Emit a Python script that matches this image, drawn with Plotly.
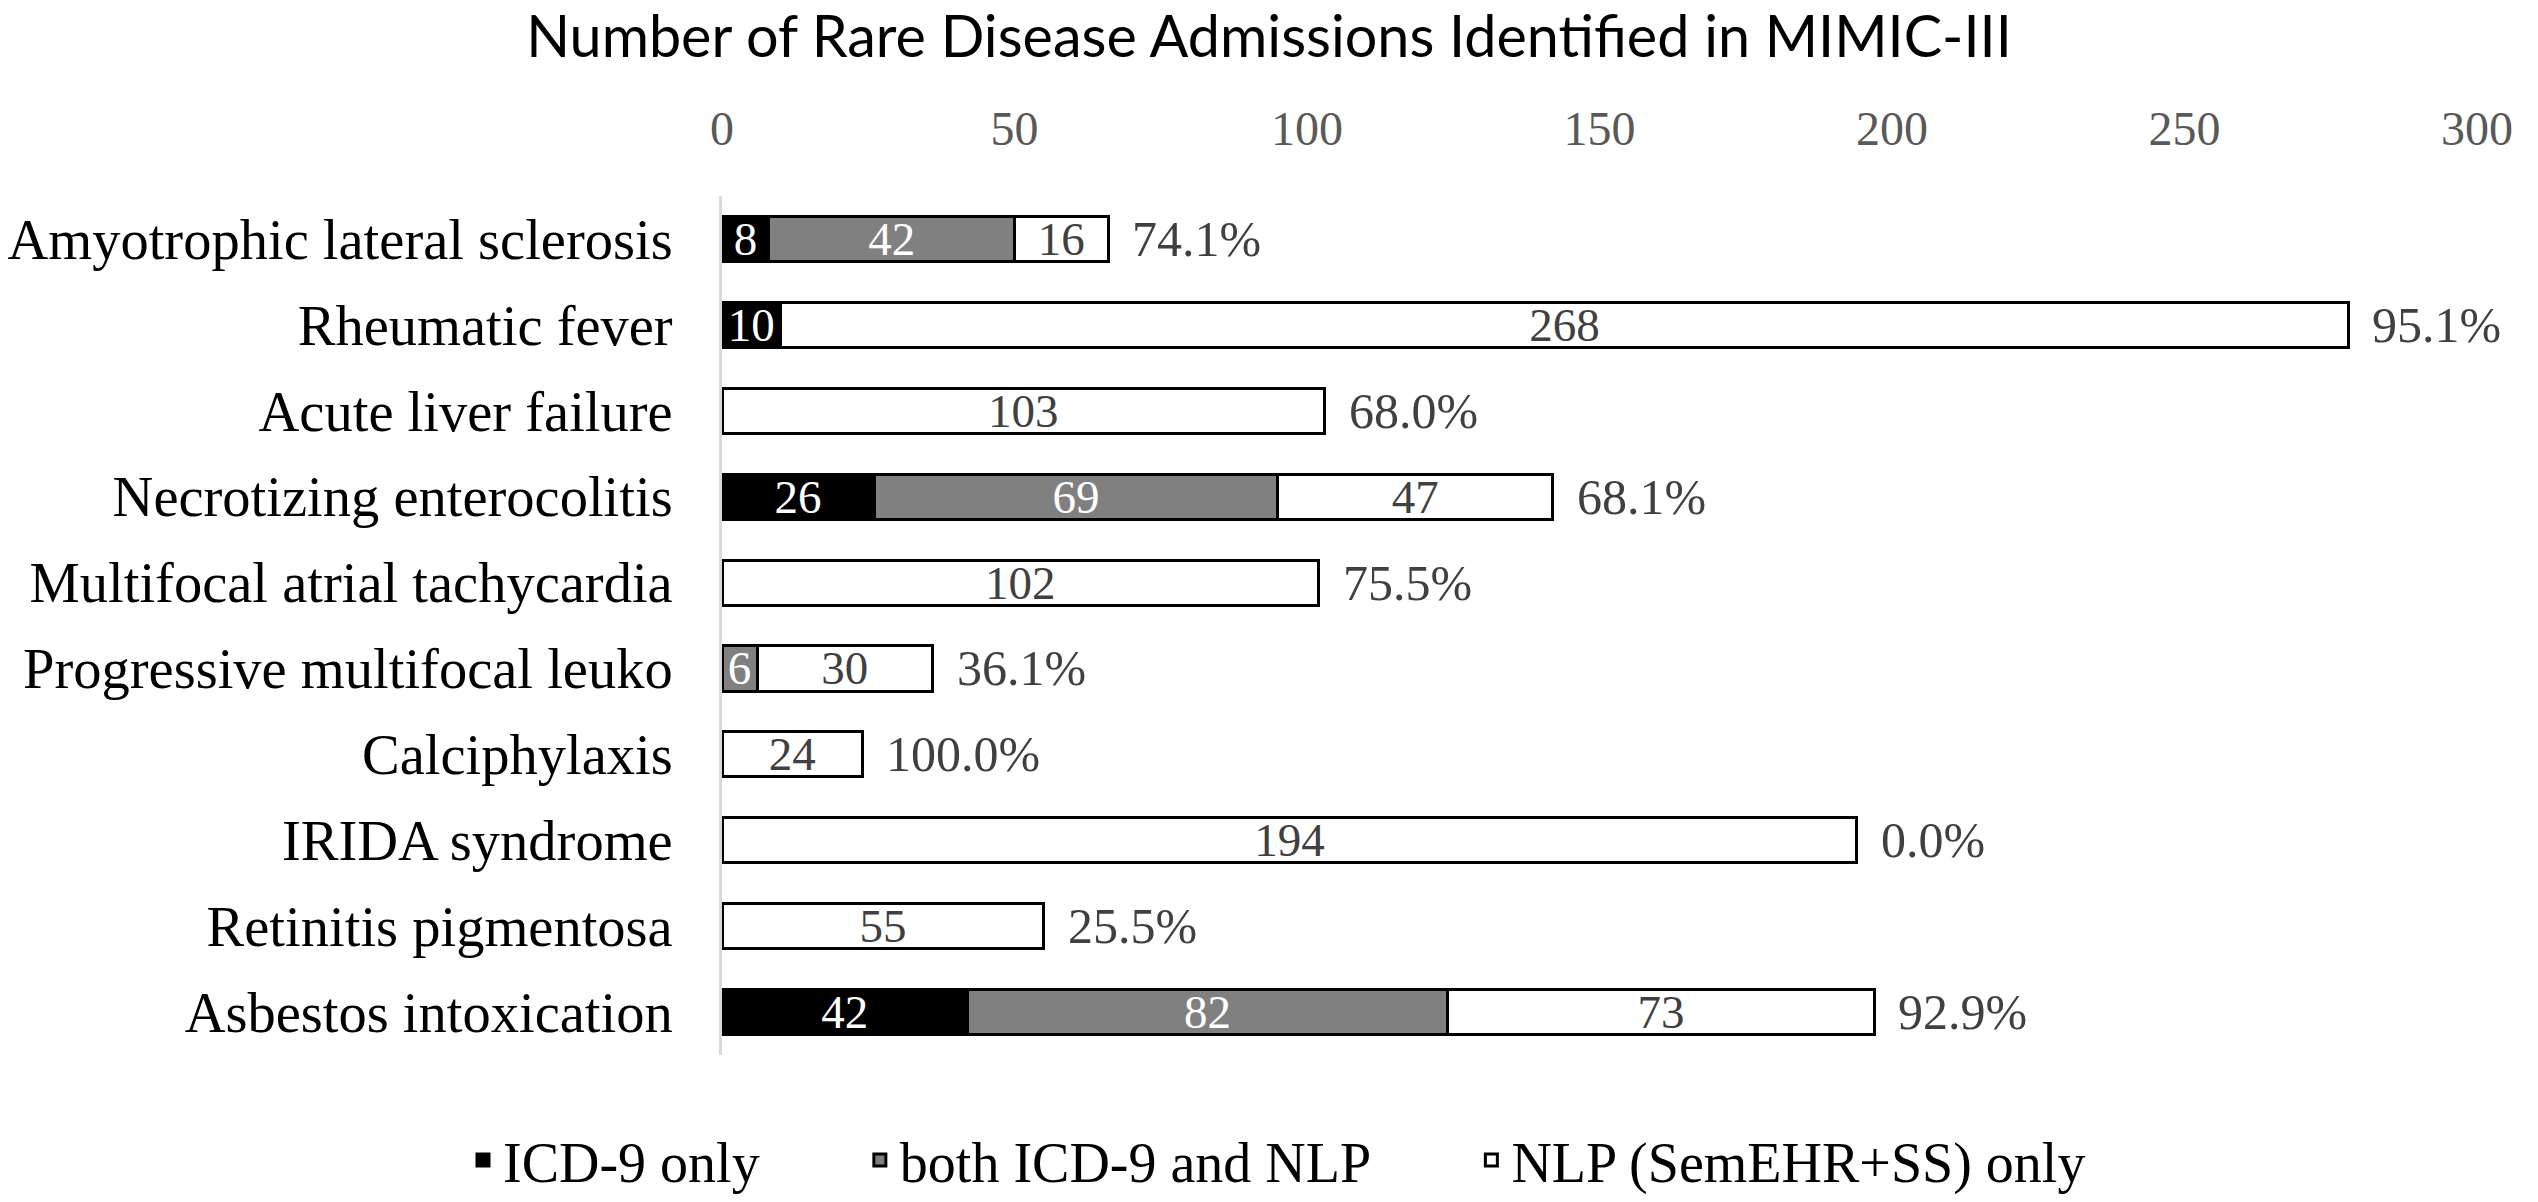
import plotly.graph_objects as go

categories = [
    "Amyotrophic lateral sclerosis",
    "Rheumatic fever",
    "Acute liver failure",
    "Necrotizing enterocolitis",
    "Multifocal atrial tachycardia",
    "Progressive multifocal leuko",
    "Calciphylaxis",
    "IRIDA syndrome",
    "Retinitis pigmentosa",
    "Asbestos intoxication",
]
icd9_only = [8, 10, 0, 26, 0, 0, 0, 0, 0, 42]
both = [42, 0, 0, 69, 0, 6, 0, 0, 0, 82]
nlp_only = [16, 268, 103, 47, 102, 30, 24, 194, 55, 73]
pct_labels = ["74.1%", "95.1%", "68.0%", "68.1%", "75.5%", "36.1%", "100.0%", "0.0%", "25.5%", "92.9%"]
x_ticks = [0, 50, 100, 150, 200, 250, 300]
series_names = ["ICD-9 only", "both ICD-9 and NLP", "NLP (SemEHR+SS) only"]

SERIF = "Liberation Serif"
GAP = "\u2003\u2002\u2009"

W, H = 2538, 1202
ML, MR, MT, MB = 722, 61, 196, 147


def lbl(vals):
    return [str(v) if v else "" for v in vals]


fig = go.Figure()
series = [
    (series_names[0] + GAP, icd9_only, "#000000", "#ffffff"),
    (series_names[1] + GAP, both, "#808080", "#ffffff"),
    (series_names[2], nlp_only, "#ffffff", "#404040"),
]
for name, vals, fill, tcol in series:
    fig.add_trace(go.Bar(
        name=name, y=categories, x=vals, orientation="h",
        marker=dict(color=fill, line=dict(color="#000000", width=3)),
        text=lbl(vals), textposition="inside", insidetextanchor="middle",
        textangle=0, constraintext="none",
        textfont=dict(family=SERIF, size=47, color=tcol),
        hoverinfo="skip",
    ))

totals = [a + b + c for a, b, c in zip(icd9_only, both, nlp_only)]
for cat, tot, p in zip(categories, totals, pct_labels):
    fig.add_annotation(x=tot, y=cat, text=p, showarrow=False, xanchor="left",
                       xshift=22, font=dict(family=SERIF, size=50, color="#404040"))

plot_w = W - ML - MR
plot_h = H - MT - MB
legend_x = (1277 - ML) / plot_w
legend_y = -(1160 - (H - MB)) / plot_h

fig.update_layout(
    width=W, height=H,
    paper_bgcolor="white", plot_bgcolor="white",
    barmode="stack", bargap=0.475,
    margin=dict(l=ML, r=MR, t=MT, b=MB, autoexpand=False),
    title=dict(text="Number of Rare Disease Admissions Identified in MIMIC-III",
               x=0.5, xanchor="center", xref="container",
               y=0.969, yanchor="middle", yref="container",
               font=dict(family="Lato", size=57.5, color="#000000")),
    xaxis=dict(side="top", range=[0, 300], tickvals=x_ticks,
               tickfont=dict(family=SERIF, size=48, color="#595959"),
               showgrid=False, zeroline=False, showline=False,
               ticks="", ticklabelstandoff=40, automargin=False, fixedrange=True),
    yaxis=dict(autorange="reversed", type="category",
               tickfont=dict(family=SERIF, size=56.5, color="#000000"),
               showgrid=False, zeroline=False, showline=True,
               linecolor="#d9d9d9", linewidth=3, ticks="",
               ticklabelstandoff=35, automargin=False),
    legend=dict(orientation="h", x=legend_x, xanchor="center",
                y=legend_y, yanchor="middle", traceorder="normal",
                font=dict(family=SERIF, size=56, color="#000000")),
    showlegend=True,
)

fig.write_html(
    "out.html",
    config={"displayModeBar": False},
    post_script="document.body.style.margin='0';document.body.style.overflow='hidden';",
)
